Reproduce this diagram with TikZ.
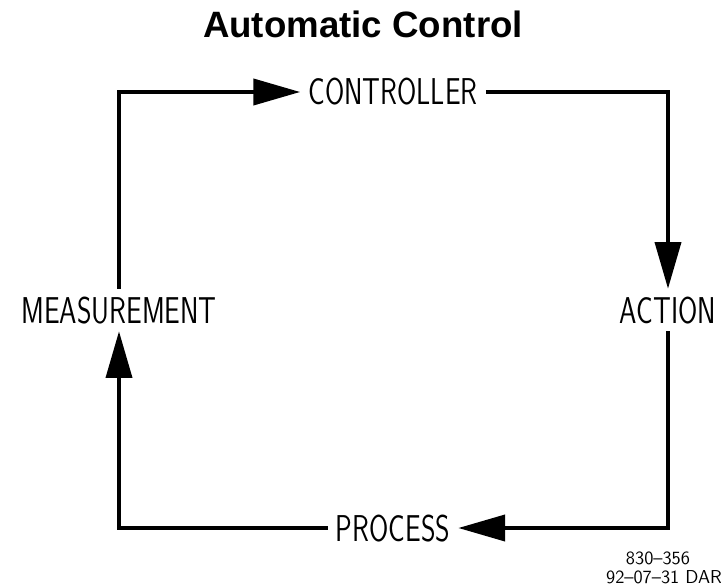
\documentclass[tikz,border=0pt]{standalone}
\usepackage{fontspec}
\usepackage{graphicx}
\usetikzlibrary{arrows.meta, positioning}

\newfontfamily\titlefont{Liberation Sans}
\newcommand{\cadtext}[1]{\scalebox{0.745}[1]{#1}}

\begin{document}
\begin{tikzpicture}[x=0.75pt, y=-0.75pt,
        tag/.style={font=\sffamily\fontsize{28}{28}\selectfont, text height=19.5pt, text depth=0pt, inner xsep=6pt, inner ysep=6pt},
        flow/.style={line width=2.8pt, -{Triangle[length=35pt, width=19.5pt]}},
        note/.style={font=\sffamily\fontsize{14}{14}\selectfont, inner sep=0pt, anchor=base}]

        \useasboundingbox (0,0) rectangle (721,588);

        \node[font=\titlefont\bfseries\fontsize{27.5}{30}\selectfont, anchor=base] (title) at (363,38) {Automatic Control};

        % the four stages of the loop
        \node[tag] (ctrl) at (393,92) {\cadtext{CONTROLLER}};
        \node[tag] (act) at (668,310) {\cadtext{ACTION}};
        \node[tag] (proc) at (393,528) {\cadtext{PROCESS}};
        \node[tag] (meas) at (119,310) {\cadtext{MEASUREMENT}};

        \draw[flow] (meas) |- (ctrl);
        \draw[flow] (ctrl) -| (act);
        \draw[flow] (act) |- (proc);
        \draw[flow] (proc) -| (meas);

        \node[note] (num) at (658,564) {830--356};
        \node[note] (date) at (664,583) {92--07--31 DAR};

\end{tikzpicture}
\end{document}
